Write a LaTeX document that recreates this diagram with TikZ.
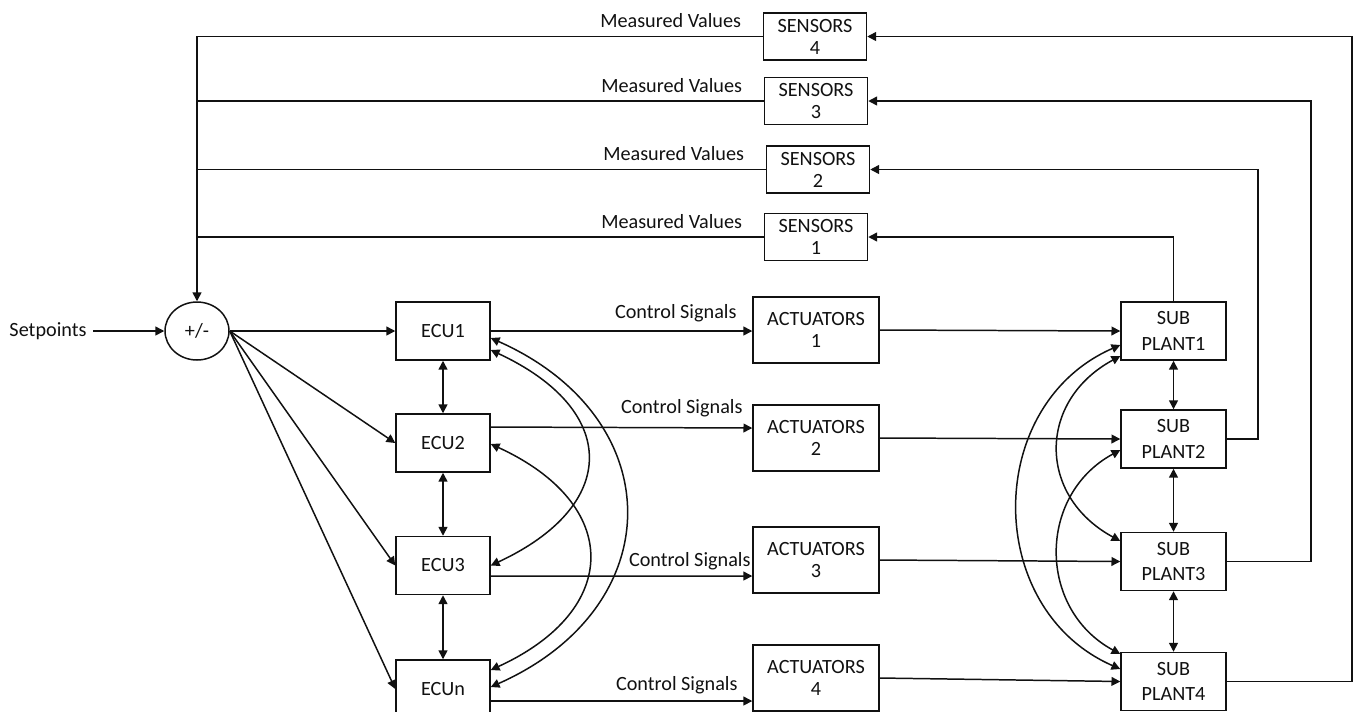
\documentclass[tikz,border=0pt]{standalone}
\usepackage{fontspec}
\setmainfont{Carlito}
\usetikzlibrary{arrows.meta,calc,positioning,shapes.geometric}
\definecolor{Ink}{HTML}{111111}
\tikzset{
  every node/.style={font=\fontsize{11.5}{12.5}\selectfont, text=Ink},
  block/.style={draw=Ink, line width=0.85pt, fill=white, align=center, inner sep=1pt},
  ecubox/.style={block, minimum width=1.88cm, minimum height=1.16cm},
  actbox/.style={block, minimum width=2.52cm, minimum height=1.32cm},
  subbox/.style={block, minimum width=2.1cm, minimum height=1.16cm,
    font=\fontsize{11.5}{14.5}\selectfont},
  senbox/.style={block, minimum width=2.06cm, minimum height=0.94cm},
  sumnode/.style={draw=Ink, line width=0.85pt, ellipse, minimum width=1.28cm,
    minimum height=1.16cm, inner sep=0pt},
  lbl/.style={inner sep=0pt}
}

\begin{document}
\begin{tikzpicture}[x=0.02cm, y=-0.02cm, line width=0.85pt, draw=Ink,
    >={Triangle[length=5pt,width=5pt]}]
  \clip (0,0) rectangle (1354,711);

  \node (setp) at (48,331) {Setpoints};
  \node[sumnode] (sum) at (197,331) {+/-};

  \node[ecubox] (ecu1) at (443,331) {ECU1};
  \node[ecubox] (ecu2) at (443,443) {ECU2};
  \node[ecubox] (ecu3) at (443,565.5) {ECU3};
  \node[ecubox] (ecun) at (443,689) {ECUn};

  \node[actbox] (act1) at (816,330) {ACTUATORS\\1};
  \node[actbox] (act2) at (816,438) {ACTUATORS\\2};
  \node[actbox] (act3) at (816,560) {ACTUATORS\\3};
  \node[actbox] (act4) at (816,678) {ACTUATORS\\4};

  \node[subbox] (sub1) at (1173.5,331) {SUB\\PLANT1};
  \node[subbox] (sub2) at (1173.5,439) {SUB\\PLANT2};
  \node[subbox] (sub3) at (1173.5,561.5) {SUB\\PLANT3};
  \node[subbox] (sub4) at (1173.5,681.5) {SUB\\PLANT4};

  \node[senbox] (sen4) at (815,36.5) {SENSORS\\4};
  \node[senbox] (sen3) at (816,101) {SENSORS\\3};
  \node[senbox] (sen2) at (818,169.5) {SENSORS\\2};
  \node[senbox] (sen1) at (816,237) {SENSORS\\1};

  \node[lbl, anchor=base east] (mv4) at ($(sen4.west)+(-21,-9)$) {Measured Values};
  \node[lbl, anchor=base east] (mv3) at ($(sen3.west)+(-21,-9)$) {Measured Values};
  \node[lbl, anchor=base east] (mv2) at ($(sen2.west)+(-21,-9)$) {Measured Values};
  \node[lbl, anchor=base east] (mv1) at ($(sen1.west)+(-21,-9)$) {Measured Values};

  \node[lbl, anchor=base east] (cs1) at ($(act1.west)+(-15,-12)$) {Control Signals};
  \node[lbl, anchor=base east] (cs2) at ($(act2.west)+(-9,-25)$) {Control Signals};
  \node[lbl, anchor=base east] (cs3) at ($(act3.west)+(-1,6)$) {Control Signals};
  \node[lbl, anchor=base east] (cs4) at ($(act4.west)+(-14,12)$) {Control Signals};

  \draw[->] (setp) -- (sum);
  \draw[->] (sum.east) -- (ecu1.west);
  \draw[->] (sum.east) -- (ecu2.west);
  \draw[->] (sum.east) -- (ecu3.west);
  \draw[->] (sum.east) -- (ecun.west);

  \draw[<->] (ecu1) -- (ecu2);
  \draw[<->] (ecu2) -- (ecu3);
  \draw[<->] (ecu3) -- (ecun);
  \draw[<->] ($(ecu1.east)+(0,19)$) .. controls +(129,60) and +(129,-60) .. (ecu3.east);
  \draw[<->] ($(ecu1.east)+(0,7)$) .. controls +(180,80) and +(180,-80) .. ($(ecun.east)+(0,-2)$);
  \draw[<->] ($(ecu2.east)+(0,1)$) .. controls +(131,60) and +(131,-60) .. ($(ecun.east)+(0,-19)$);

  \draw[->] (ecu1.east) -- (act1.west |- ecu1.east);
  \draw[->] ($(ecu2.east)+(0,-16)$) -- ($(act2.west)+(0,-10)$);
  \draw[->] ($(ecu3.east)+(0,10.5)$) -- ($(act3.west)+(0,16)$);
  \draw[->] ($(ecun.east)+(0,12)$) -- ($(act4.west)+(0,23)$);

  \draw[->] (act1.east) -- (sub1.west);
  \draw[->] (act2.east) -- (sub2.west);
  \draw[->] (act3.east) -- (sub3.west);
  \draw[->] (act4.east) -- (sub4.west);

  \draw[<->] (sub1) -- (sub2);
  \draw[<->] (sub2) -- (sub3);
  \draw[<->] (sub3) -- (sub4);
  \draw[<->] ($(sub1.west)+(0,14)$) .. controls +(-137,60) and +(-137,-60) .. ($(sub4.west)+(0,-12.5)$);
  \draw[<->] ($(sub1.west)+(0,25)$) .. controls +(-83,45) and +(-83,-45) .. ($(sub3.west)+(0,-20.5)$);
  \draw[<->] ($(sub2.west)+(0,11)$) .. controls +(-83,45) and +(-83,-45) .. ($(sub4.west)+(0,-27.5)$);

  \draw[->] (sub1.north) |- (sen1.east);
  \draw[->] (sub2.east) -- ++(31,0) |- (sen2.east);
  \draw[->] (sub3.east) -- ++(84,0) |- (sen3.east);
  \draw[->] (sub4.east) -- ++(125,0) |- (sen4.east);

  \coordinate (fbtop) at (sum.north |- sen4.west);
  \draw[->] (sen4.west) -- (fbtop) -- (sum.north);
  \draw (sen3.west) -- (sum.north |- sen3.west);
  \draw (sen2.west) -- (sum.north |- sen2.west);
  \draw (sen1.west) -- (sum.north |- sen1.west);
\end{tikzpicture}
\end{document}
